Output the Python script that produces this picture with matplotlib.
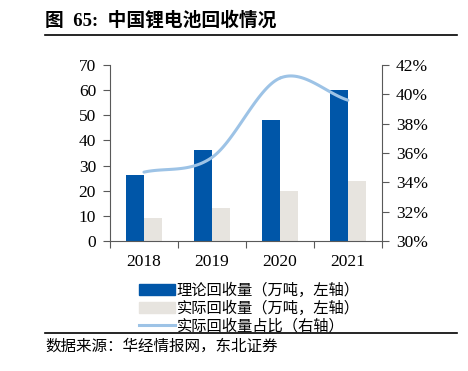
import numpy as np
import matplotlib.pyplot as plt
from matplotlib.patches import Patch
from matplotlib.lines import Line2D

plt.rcParams['font.family'] = ['Liberation Serif', 'Noto Sans CJK SC']

years = ['2018', '2019', '2020', '2021']
theory = [26.1, 36.4, 48.0, 60.0]     # 理论回收量 (万吨)
actual = [9.1, 13.1, 19.9, 23.9]      # 实际回收量 (万吨)
ratio = [34.7, 35.7, 41.1, 39.6]      # 实际回收量占比 (%)

blue = '#0056A8'
grey = '#E7E4DF'
light = '#9DC3E6'
axis_col = '#595959'


def catmull_rom(x, y, n=40):
    # smooth line through the points, like the office "smoothed line"
    x = np.asarray(x, float)
    y = np.asarray(y, float)
    px = np.concatenate([[2 * x[0] - x[1]], x, [2 * x[-1] - x[-2]]])
    py = np.concatenate([[2 * y[0] - y[1]], y, [2 * y[-1] - y[-2]]])
    xs, ys = [], []
    t = np.linspace(0, 1, n)
    for i in range(1, len(px) - 2):
        for p, out in ((px, xs), (py, ys)):
            p0, p1, p2, p3 = p[i - 1], p[i], p[i + 1], p[i + 2]
            out.append(0.5 * (2 * p1 + (-p0 + p2) * t
                              + (2 * p0 - 5 * p1 + 4 * p2 - p3) * t ** 2
                              + (-p0 + 3 * p1 - 3 * p2 + p3) * t ** 3))
    return np.concatenate(xs), np.concatenate(ys)


fig = plt.figure(figsize=(4.68, 3.71), dpi=100)
ax = fig.add_axes([0.235, 0.350, 0.581, 0.475])

x = np.arange(len(years))
w = 0.27
ax.bar(x - w / 2, theory, width=w, color=blue, zorder=2)
ax.bar(x + w / 2, actual, width=w, color=grey, zorder=2)

ax.set_xlim(-0.5, 3.5)
ax.set_ylim(0, 70)
ax.set_yticks(range(0, 71, 10))
ax.set_xticks(np.arange(-0.5, 3.6, 1))
ax.set_xticklabels([])
ax.set_xticks(x, minor=True)
ax.set_xticklabels(years, minor=True)
ax.tick_params(axis='x', which='minor', length=0, pad=9, labelsize=12.5)
ax.tick_params(axis='x', which='major', length=5, color=axis_col)
ax.tick_params(axis='y', length=5, color=axis_col, labelsize=12.5, pad=5)
for s in ['top', 'right']:
    ax.spines[s].set_visible(False)
for s in ['left', 'bottom']:
    ax.spines[s].set_color(axis_col)

ax2 = ax.twinx()
sx, sy = catmull_rom(x, ratio)
ax2.plot(sx, sy, color=light, lw=2.2, solid_capstyle='round', zorder=3)
ax2.set_ylim(30, 42)
ax2.set_yticks(range(30, 43, 2))
ax2.set_yticklabels([f'{v}%' for v in range(30, 43, 2)])
ax2.tick_params(axis='y', length=5, color=axis_col, labelsize=12.5, pad=5)
for s in ['top', 'left', 'bottom']:
    ax2.spines[s].set_visible(False)
ax2.spines['right'].set_color(axis_col)

# title and rules
fig.text(0.096, 0.945, '图  65:  中国锂电池回收情况', fontsize=13.5, fontweight='bold',
         va='center', ha='left', family=['Liberation Serif', 'Noto Sans CJK SC'])
fig.add_artist(Line2D([0.096, 0.977], [0.906, 0.906], color='black', lw=1.2))
fig.add_artist(Line2D([0.096, 0.977], [0.102, 0.102], color='black', lw=1.2))
fig.text(0.096, 0.067, '数据来源：华经情报网，东北证券', fontsize=11.2,
         va='center', ha='left', family=['Noto Sans CJK SC'])

handles = [Patch(color=blue), Patch(color=grey), Line2D([], [], color=light, lw=2.2)]
labels = ['理论回收量（万吨，左轴）', '实际回收量（万吨，左轴）', '实际回收量占比（右轴）']
fig.legend(handles, labels, loc='upper left', bbox_to_anchor=(0.28, 0.26),
           frameon=False, handlelength=2.4, handleheight=0.7,
           handletextpad=0.1, labelspacing=0.05, borderpad=0,
           prop={'family': ['Noto Sans CJK SC'], 'size': 11})

fig.savefig('out.png', dpi=100)
